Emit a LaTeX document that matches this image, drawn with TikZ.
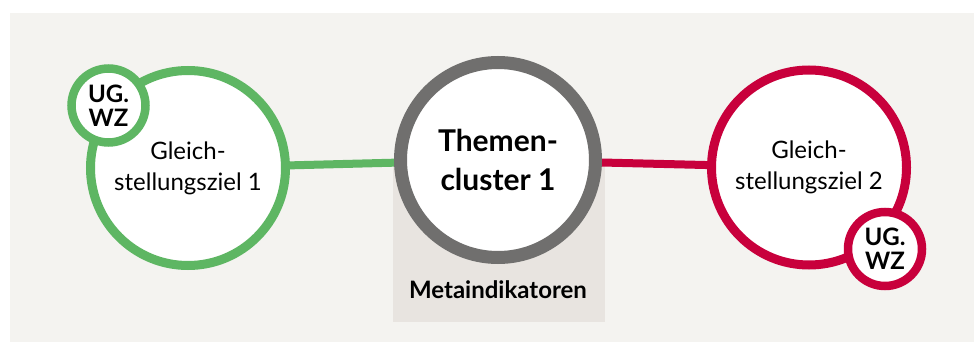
\documentclass[tikz,border=0pt]{standalone}
\usepackage{fontspec}
\setmainfont{Lato}
\definecolor{panelbg}{HTML}{F4F3F0}
\definecolor{metabg}{HTML}{E8E4E0}
\definecolor{ggreen}{HTML}{5EB663}
\definecolor{rred}{HTML}{C8003C}
\definecolor{ggray}{HTML}{706F6E}
\tikzset{
  bigcirc/.style={circle, draw, fill=white, inner sep=0pt, minimum size=195pt, align=center},
  smallcirc/.style={circle, draw, fill=white, line width=8.5pt, inner sep=0pt, minimum size=74pt, align=center,
     font=\bfseries\fontsize{24}{24}\selectfont},
  goaltext/.style={font=\fontsize{24}{31}\selectfont},
  conn/.style={line width=8pt},
}
\begin{document}
\begin{tikzpicture}[x=1pt,y=-1pt]
\useasboundingbox (0,0) rectangle (974,342);
\fill[panelbg] (10,13) rectangle (974,342);
\fill[metabg] (393,160) rectangle (605,322);
\node[font=\bfseries\fontsize{24}{26}\selectfont] (meta) at (498,290) {Metaindikatoren};
\coordinate (cg) at (188,168);
\coordinate (ct) at (498,160);
\coordinate (cr) at (809,167.5);
\draw[conn, ggreen] (cg) -- (ct);
\draw[conn, rred] (ct) -- (cr);
\node[bigcirc, draw=ggreen, line width=9pt, goaltext] (g1) at (cg) {Gleich-\\stellungsziel 1};
\node[bigcirc, draw=rred, line width=9pt, goaltext] (g2) at (cr) {Gleich-\\stellungsziel 2};
\node[bigcirc, draw=ggray, line width=13pt, font=\bfseries\fontsize{30}{39}\selectfont] (tc) at (ct) {Themen-\\cluster 1};
\node[smallcirc, draw=ggreen] (u1) at (108.5,105.5) {UG.\\WZ};
\node[smallcirc, draw=rred] (u2) at (885,249) {UG.\\WZ};
\end{tikzpicture}
\end{document}
